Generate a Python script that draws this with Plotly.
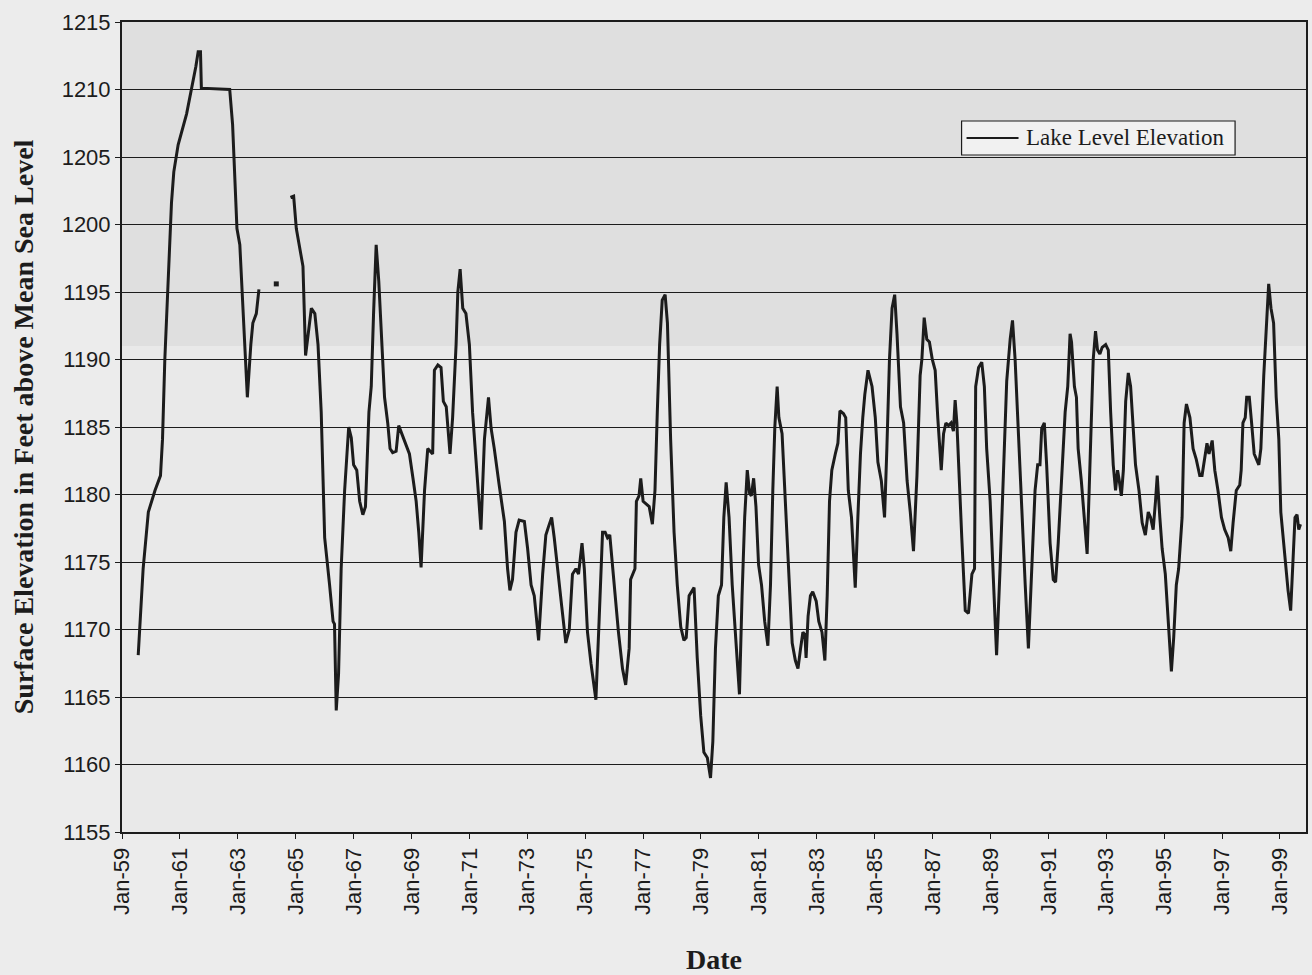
import pandas as pd
import plotly.graph_objects as go

# ---- data (decimal year, lake level in ft) ----
years = [
    1959.56, 1959.73, 1959.91, 1960.14, 1960.33, 1960.40, 1960.48, 1960.60, 1960.71, 1960.79,
    1960.94, 1961.23, 1961.43, 1961.55, 1961.63, 1961.71, 1961.74, 1962.72, 1962.82, 1962.90,
    1962.97, 1963.07, 1963.16, 1963.24, 1963.33, 1963.45, 1963.52, 1963.64, 1963.73,
    1964.00, 1964.33, 1964.60,
    1964.82, 1964.93, 1965.02, 1965.14, 1965.25, 1965.34, 1965.46, 1965.54, 1965.66, 1965.77,
    1965.88, 1966.00, 1966.17, 1966.29, 1966.34, 1966.40, 1966.48, 1966.57, 1966.69, 1966.83,
    1966.92, 1967.00, 1967.11, 1967.21, 1967.32, 1967.41, 1967.53, 1967.61, 1967.69, 1967.78,
    1967.87, 1967.95, 1968.07, 1968.18, 1968.26, 1968.35, 1968.47, 1968.56, 1968.67, 1968.81,
    1968.93, 1969.05, 1969.16, 1969.25, 1969.33, 1969.45, 1969.56, 1969.73, 1969.79, 1969.91,
    1970.02, 1970.10, 1970.20, 1970.33, 1970.42, 1970.54, 1970.60, 1970.68, 1970.77, 1970.88,
    1971.00, 1971.11, 1971.23, 1971.40, 1971.52, 1971.66, 1971.75, 1971.86, 1972.03, 1972.21,
    1972.32, 1972.40, 1972.49, 1972.61, 1972.72, 1972.90, 1973.01, 1973.13, 1973.24, 1973.39,
    1973.53, 1973.64, 1973.73, 1973.84, 1973.93, 1974.04, 1974.19, 1974.33, 1974.45, 1974.56,
    1974.68, 1974.77, 1974.89, 1974.97, 1975.08, 1975.20, 1975.37, 1975.48, 1975.60, 1975.69,
    1975.77, 1975.85, 1976.00, 1976.15, 1976.29, 1976.40, 1976.52, 1976.57, 1976.72, 1976.77,
    1976.86, 1976.92, 1977.00, 1977.11, 1977.21, 1977.32, 1977.41, 1977.49, 1977.57, 1977.66,
    1977.76, 1977.84, 1977.95, 1978.07, 1978.18, 1978.30, 1978.41, 1978.49, 1978.59, 1978.76,
    1978.87, 1978.99, 1979.10, 1979.22, 1979.33, 1979.41, 1979.50, 1979.60, 1979.71, 1979.79,
    1979.87, 1979.97, 1980.08, 1980.20, 1980.33, 1980.42, 1980.51, 1980.60, 1980.68, 1980.74,
    1980.82, 1980.90, 1980.99, 1981.09, 1981.20, 1981.31, 1981.40, 1981.48, 1981.55, 1981.63,
    1981.69, 1981.80, 1981.90, 1981.98, 1982.06, 1982.15, 1982.26, 1982.35, 1982.44, 1982.52,
    1982.59, 1982.63, 1982.70, 1982.78, 1982.86, 1982.98, 1983.07, 1983.18, 1983.28, 1983.36,
    1983.44, 1983.52, 1983.64, 1983.73, 1983.80, 1983.92, 1984.00, 1984.09, 1984.20, 1984.33,
    1984.42, 1984.51, 1984.59, 1984.66, 1984.77, 1984.91, 1985.02, 1985.11, 1985.23, 1985.34,
    1985.42, 1985.51, 1985.60, 1985.69, 1985.77, 1985.89, 1986.00, 1986.12, 1986.23, 1986.34,
    1986.46, 1986.57, 1986.63, 1986.71, 1986.80, 1986.89, 1986.99, 1987.09, 1987.18, 1987.24,
    1987.30, 1987.38, 1987.46, 1987.55, 1987.64, 1987.72, 1987.78, 1987.84, 1987.92, 1988.01,
    1988.13, 1988.24, 1988.36, 1988.45, 1988.49, 1988.59, 1988.70, 1988.79, 1988.87, 1988.99,
    1989.10, 1989.21, 1989.33, 1989.45, 1989.56, 1989.68, 1989.76, 1989.85, 1989.97, 1990.08,
    1990.20, 1990.31, 1990.42, 1990.54, 1990.63, 1990.71, 1990.77, 1990.86, 1990.94, 1991.06,
    1991.17, 1991.25, 1991.34, 1991.46, 1991.58, 1991.67, 1991.75, 1991.80, 1991.90, 1991.97,
    1992.03, 1992.14, 1992.26, 1992.34, 1992.41, 1992.49, 1992.55, 1992.63, 1992.70, 1992.78,
    1992.86, 1992.98, 1993.07, 1993.15, 1993.24, 1993.32, 1993.39, 1993.45, 1993.52, 1993.59,
    1993.67, 1993.76, 1993.84, 1993.93, 1994.01, 1994.13, 1994.24, 1994.35, 1994.45, 1994.53,
    1994.62, 1994.70, 1994.76, 1994.85, 1994.93, 1995.04, 1995.16, 1995.25, 1995.33, 1995.42,
    1995.50, 1995.57, 1995.62, 1995.69, 1995.77, 1995.89, 1996.00, 1996.11, 1996.23, 1996.31,
    1996.40, 1996.48, 1996.55, 1996.66, 1996.75, 1996.86, 1996.98, 1997.09, 1997.21, 1997.30,
    1997.38, 1997.49, 1997.61, 1997.66, 1997.72, 1997.80, 1997.85, 1997.94, 1998.02, 1998.11,
    1998.27, 1998.34, 1998.44, 1998.53, 1998.61, 1998.69, 1998.78, 1998.87, 1998.96, 1999.03,
    1999.16, 1999.28, 1999.37, 1999.45, 1999.52, 1999.59, 1999.65, 1999.71,
]

levels = [
    1168.1, 1174.5, 1178.7, 1180.3, 1181.4, 1184.1, 1190.0, 1196.6, 1201.6, 1203.9,
    1205.9, 1208.2, 1210.3, 1211.7, 1212.8, 1212.8, 1210.1, 1210.0, 1207.4, 1203.5,
    1199.7, 1198.5, 1194.6, 1191.1, 1187.2, 1191.1, 1192.7, 1193.4, 1195.2,
    None, 1195.6, None,
    1202.0, 1202.1, 1199.7, 1198.1, 1196.9, 1190.3, 1192.7, 1193.8, 1193.4, 1191.1,
    1186.1, 1176.8, 1173.3, 1170.6, 1170.4, 1164.0, 1166.7, 1174.5, 1180.3, 1185.0,
    1184.2, 1182.2, 1181.8, 1179.5, 1178.5, 1179.1, 1186.1, 1188.0, 1193.4, 1198.5,
    1195.8, 1191.9, 1187.2, 1185.3, 1183.4, 1183.1, 1183.2, 1185.1, 1184.5, 1183.6,
    1183.0, 1181.2, 1179.5, 1177.2, 1174.6, 1180.3, 1183.4, 1183.0, 1189.2, 1189.6,
    1189.4, 1186.9, 1186.5, 1183.0, 1185.7, 1191.1, 1195.0, 1196.7, 1193.8, 1193.4,
    1191.1, 1186.1, 1182.6, 1177.4, 1184.1, 1187.2, 1184.9, 1183.4, 1180.7, 1178.0,
    1174.5, 1172.9, 1173.7, 1177.2, 1178.1, 1178.0, 1176.0, 1173.3, 1172.5, 1169.2,
    1174.1, 1177.0, 1177.6, 1178.3, 1176.8, 1174.5, 1171.7, 1169.0, 1170.0, 1174.1,
    1174.5, 1174.1, 1176.4, 1174.5, 1169.8, 1167.5, 1164.8, 1170.6, 1177.2, 1177.2,
    1176.8, 1177.0, 1173.3, 1169.8, 1167.1, 1165.9, 1168.6, 1173.7, 1174.5, 1179.5,
    1179.9, 1181.2, 1179.5, 1179.3, 1179.1, 1177.8, 1180.3, 1186.1, 1191.1, 1194.4,
    1194.8, 1192.7, 1184.1, 1177.2, 1173.3, 1170.2, 1169.2, 1169.4, 1172.5, 1173.1,
    1167.9, 1163.6, 1160.9, 1160.5, 1159.0, 1161.7, 1168.6, 1172.5, 1173.3, 1178.3,
    1180.9, 1178.3, 1173.3, 1169.4, 1165.2, 1172.5, 1178.3, 1181.8, 1180.1, 1179.9,
    1181.2, 1179.1, 1174.8, 1173.3, 1170.6, 1168.8, 1173.3, 1180.3, 1185.0, 1188.0,
    1185.7, 1184.5, 1180.3, 1176.4, 1173.3, 1169.0, 1167.7, 1167.1, 1168.6, 1169.8,
    1169.6, 1167.9, 1171.0, 1172.5, 1172.8, 1172.1, 1170.6, 1169.8, 1167.7, 1172.5,
    1179.5, 1181.8, 1183.0, 1183.8, 1186.2, 1186.0, 1185.7, 1180.3, 1178.3, 1173.1,
    1178.3, 1183.0, 1185.7, 1187.4, 1189.2, 1188.0, 1185.7, 1182.4, 1181.0, 1178.3,
    1183.4, 1190.0, 1193.8, 1194.8, 1191.9, 1186.5, 1185.3, 1181.0, 1178.7, 1175.8,
    1181.4, 1188.8, 1190.0, 1193.1, 1191.5, 1191.3, 1190.0, 1189.2, 1185.7, 1183.4,
    1181.8, 1184.5, 1185.3, 1185.1, 1185.3, 1184.7, 1187.0, 1185.3, 1181.0, 1176.8,
    1171.4, 1171.2, 1174.1, 1174.5, 1188.0, 1189.4, 1189.8, 1188.0, 1183.4, 1179.5,
    1173.7, 1168.1, 1174.5, 1182.2, 1188.4, 1191.5, 1192.9, 1190.0, 1184.1, 1178.3,
    1173.3, 1168.6, 1174.5, 1180.3, 1182.2, 1182.2, 1184.9, 1185.3, 1182.2, 1176.4,
    1173.7, 1173.5, 1176.4, 1181.0, 1186.1, 1188.0, 1191.9, 1191.3, 1188.0, 1187.2,
    1183.4, 1181.0, 1177.9, 1175.6, 1180.3, 1185.7, 1190.0, 1192.1, 1190.7, 1190.4,
    1190.9, 1191.1, 1190.7, 1186.1, 1182.2, 1180.3, 1181.8, 1181.0, 1179.9, 1181.8,
    1186.9, 1189.0, 1188.0, 1184.9, 1182.2, 1180.3, 1177.9, 1177.0, 1178.7, 1178.3,
    1177.4, 1179.5, 1181.4, 1178.3, 1176.0, 1174.1, 1169.8, 1166.9, 1169.4, 1173.3,
    1174.5, 1177.2, 1178.3, 1185.3, 1186.7, 1185.7, 1183.4, 1182.6, 1181.4, 1181.4,
    1182.6, 1183.8, 1183.0, 1184.0, 1181.8, 1180.3, 1178.3, 1177.4, 1176.8, 1175.8,
    1177.9, 1180.3, 1180.7, 1181.8, 1185.3, 1185.7, 1187.2, 1187.2, 1185.3, 1183.0,
    1182.2, 1183.4, 1188.8, 1192.7, 1195.6, 1193.8, 1192.7, 1187.2, 1184.1, 1178.7,
    1175.6, 1172.9, 1171.4, 1174.9, 1178.3, 1178.5, 1177.4, 1177.8,
]

y_ticks = [1155, 1160, 1165, 1170, 1175, 1180, 1185, 1190, 1195, 1200, 1205, 1210, 1215]
series_name = "Lake Level Elevation"
y_title = "Surface Elevation in Feet above Mean Sea Level"
x_title = "Date"

INK = "#1c1c1c"
SERIF = "Liberation Serif, Times New Roman, serif"
SANS = "Liberation Sans, Arial, sans-serif"


def to_date(t):
    yr = int(t)
    return pd.Timestamp(year=yr, month=1, day=1) + pd.Timedelta(days=(t - yr) * 365.25)


dates = [to_date(t) for t in years]

# isolated readings (no neighbours) are drawn as dots
iso_x, iso_y = [], []
for i, v in enumerate(levels):
    if v is None:
        continue
    prev_none = i == 0 or levels[i - 1] is None
    next_none = i == len(levels) - 1 or levels[i + 1] is None
    if prev_none and next_none:
        iso_x.append(dates[i])
        iso_y.append(v)

fig = go.Figure()
fig.add_trace(go.Scatter(
    x=dates, y=levels, mode="lines", name=series_name, showlegend=False,
    line=dict(color=INK, width=3), connectgaps=False,
))
fig.add_trace(go.Scatter(
    x=iso_x, y=iso_y, mode="markers", showlegend=False,
    marker=dict(color=INK, size=5, symbol="square"),
))

tick_dates = [pd.Timestamp(year=y, month=1, day=1) for y in range(1959, 2000, 2)]
tick_text = [d.strftime("%b-%y") for d in tick_dates]

# legend box drawn as in the original (long line sample)
shapes = [
    dict(type="rect", xref="paper", yref="y", x0=0, x1=1, y0=1191, y1=1215,
         fillcolor="#d2d2d2", opacity=0.45, line=dict(width=0), layer="below"),
    dict(type="rect", xref="paper", yref="paper", x0=0.7091, x1=0.9401, y0=0.8358, y1=0.8778,
         fillcolor="#f1f1f1", line=dict(color=INK, width=1.2), layer="above"),
    dict(type="line", xref="paper", yref="paper", x0=0.7133, x1=0.7572, y0=0.8568, y1=0.8568,
         line=dict(color=INK, width=2), layer="above"),
]
annotations = [
    dict(text=series_name, xref="paper", yref="paper", x=0.7615, y=0.8568,
         xanchor="left", yanchor="middle", showarrow=False,
         font=dict(family=SERIF, size=23, color=INK)),
]

fig.update_layout(
    width=1312, height=975,
    margin=dict(l=122, r=4, t=22, b=143),
    paper_bgcolor="#ececec",
    plot_bgcolor="#e9e9e9",
    font=dict(family=SANS, color=INK, size=22),
    showlegend=False,
    shapes=shapes,
    annotations=annotations,
)

fig.update_xaxes(
    type="date",
    range=[pd.Timestamp("1959-01-01"), to_date(1999.90)],
    tickvals=tick_dates, ticktext=tick_text, tickangle=-90,
    ticks="outside", ticklen=5, tickcolor=INK,
    showgrid=False, showline=True, linecolor=INK, linewidth=2, mirror=True,
    tickfont=dict(family=SANS, size=22),
    title=dict(text=x_title, standoff=36,
               font=dict(family=SERIF, size=28, weight="bold")),
)
fig.update_yaxes(
    range=[1155, 1215], tickvals=y_ticks,
    ticks="outside", ticklen=5, tickcolor=INK,
    showgrid=True, gridcolor=INK, gridwidth=1.3,
    showline=True, linecolor=INK, linewidth=2, mirror=True,
    zeroline=False,
    tickfont=dict(family=SANS, size=22),
    title=dict(text=y_title, standoff=20,
               font=dict(family=SERIF, size=28, weight="bold")),
)

fig.write_html(
    "out.html",
    config={"displayModeBar": False},
    post_script="document.body.style.margin='0px';document.body.style.background='#ececec';",
)
